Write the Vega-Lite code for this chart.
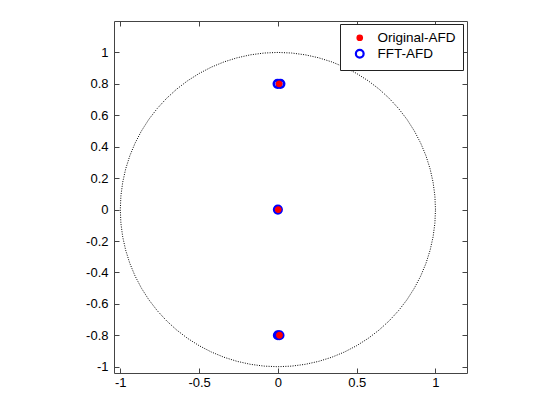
{
  "$schema": "https://vega.github.io/schema/vega-lite/v6.json",
  "width": 353,
  "height": 352,
  "autosize": {"type": "none"},
  "padding": {"left": 114, "top": 21, "right": 87, "bottom": 42},
  "background": "white",
  "config": {
    "view": {"stroke": null},
    "font": "Liberation Sans",
    "axis": {
      "grid": false,
      "domainColor": "#444",
      "tickColor": "#444",
      "tickSize": -5,
      "labelFont": "Liberation Sans",
      "labelFontSize": 13,
      "labelColor": "#000",
      "title": null
    },
    "legend": {
      "orient": "none",
      "legendX": 226,
      "legendY": 3,
      "strokeColor": "#222",
      "fillColor": "white",
      "padding": 7,
      "labelFont": "Liberation Sans",
      "labelFontSize": 13.5,
      "labelColor": "#000",
      "symbolSize": 55,
      "symbolStrokeWidth": 2.2,
      "symbolOffset": 6,
      "rowPadding": 0,
      "labelOffset": 11,
      "offset": 0
    }
  },
  "datasets": {
    "circle": [
      {"a": 0, "x": 1, "y": 0},
      {"a": 5, "x": 0.9962, "y": 0.0872},
      {"a": 10, "x": 0.9848, "y": 0.1736},
      {"a": 15, "x": 0.9659, "y": 0.2588},
      {"a": 20, "x": 0.9397, "y": 0.342},
      {"a": 25, "x": 0.9063, "y": 0.4226},
      {"a": 30, "x": 0.866, "y": 0.5},
      {"a": 35, "x": 0.8192, "y": 0.5736},
      {"a": 40, "x": 0.766, "y": 0.6428},
      {"a": 45, "x": 0.7071, "y": 0.7071},
      {"a": 50, "x": 0.6428, "y": 0.766},
      {"a": 55, "x": 0.5736, "y": 0.8192},
      {"a": 60, "x": 0.5, "y": 0.866},
      {"a": 65, "x": 0.4226, "y": 0.9063},
      {"a": 70, "x": 0.342, "y": 0.9397},
      {"a": 75, "x": 0.2588, "y": 0.9659},
      {"a": 80, "x": 0.1736, "y": 0.9848},
      {"a": 85, "x": 0.0872, "y": 0.9962},
      {"a": 90, "x": 0, "y": 1},
      {"a": 95, "x": -0.0872, "y": 0.9962},
      {"a": 100, "x": -0.1736, "y": 0.9848},
      {"a": 105, "x": -0.2588, "y": 0.9659},
      {"a": 110, "x": -0.342, "y": 0.9397},
      {"a": 115, "x": -0.4226, "y": 0.9063},
      {"a": 120, "x": -0.5, "y": 0.866},
      {"a": 125, "x": -0.5736, "y": 0.8192},
      {"a": 130, "x": -0.6428, "y": 0.766},
      {"a": 135, "x": -0.7071, "y": 0.7071},
      {"a": 140, "x": -0.766, "y": 0.6428},
      {"a": 145, "x": -0.8192, "y": 0.5736},
      {"a": 150, "x": -0.866, "y": 0.5},
      {"a": 155, "x": -0.9063, "y": 0.4226},
      {"a": 160, "x": -0.9397, "y": 0.342},
      {"a": 165, "x": -0.9659, "y": 0.2588},
      {"a": 170, "x": -0.9848, "y": 0.1736},
      {"a": 175, "x": -0.9962, "y": 0.0872},
      {"a": 180, "x": -1, "y": 0},
      {"a": 185, "x": -0.9962, "y": -0.0872},
      {"a": 190, "x": -0.9848, "y": -0.1736},
      {"a": 195, "x": -0.9659, "y": -0.2588},
      {"a": 200, "x": -0.9397, "y": -0.342},
      {"a": 205, "x": -0.9063, "y": -0.4226},
      {"a": 210, "x": -0.866, "y": -0.5},
      {"a": 215, "x": -0.8192, "y": -0.5736},
      {"a": 220, "x": -0.766, "y": -0.6428},
      {"a": 225, "x": -0.7071, "y": -0.7071},
      {"a": 230, "x": -0.6428, "y": -0.766},
      {"a": 235, "x": -0.5736, "y": -0.8192},
      {"a": 240, "x": -0.5, "y": -0.866},
      {"a": 245, "x": -0.4226, "y": -0.9063},
      {"a": 250, "x": -0.342, "y": -0.9397},
      {"a": 255, "x": -0.2588, "y": -0.9659},
      {"a": 260, "x": -0.1736, "y": -0.9848},
      {"a": 265, "x": -0.0872, "y": -0.9962},
      {"a": 270, "x": 0, "y": -1},
      {"a": 275, "x": 0.0872, "y": -0.9962},
      {"a": 280, "x": 0.1736, "y": -0.9848},
      {"a": 285, "x": 0.2588, "y": -0.9659},
      {"a": 290, "x": 0.342, "y": -0.9397},
      {"a": 295, "x": 0.4226, "y": -0.9063},
      {"a": 300, "x": 0.5, "y": -0.866},
      {"a": 305, "x": 0.5736, "y": -0.8192},
      {"a": 310, "x": 0.6428, "y": -0.766},
      {"a": 315, "x": 0.7071, "y": -0.7071},
      {"a": 320, "x": 0.766, "y": -0.6428},
      {"a": 325, "x": 0.8192, "y": -0.5736},
      {"a": 330, "x": 0.866, "y": -0.5},
      {"a": 335, "x": 0.9063, "y": -0.4226},
      {"a": 340, "x": 0.9397, "y": -0.342},
      {"a": 345, "x": 0.9659, "y": -0.2588},
      {"a": 350, "x": 0.9848, "y": -0.1736},
      {"a": 355, "x": 0.9962, "y": -0.0872},
      {"a": 360, "x": 1, "y": 0}
    ],
    "points": [
      {"series": "FFT-AFD", "x": -0.002, "y": 0.8},
      {"series": "FFT-AFD", "x": 0.016, "y": 0.8},
      {"series": "FFT-AFD", "x": 0, "y": 0},
      {"series": "FFT-AFD", "x": 0, "y": -0.8},
      {"series": "FFT-AFD", "x": 0.01, "y": -0.8},
      {"series": "Original-AFD", "x": 0.008, "y": 0.8},
      {"series": "Original-AFD", "x": 0.002, "y": 0},
      {"series": "Original-AFD", "x": 0.01, "y": -0.8}
    ]
  },
  "layer": [
    {
      "data": {"name": "circle"},
      "mark": {"type": "line", "color": "#000", "strokeWidth": 1, "strokeDash": [1, 1.4], "clip": true},
      "encoding": {
        "x": {"field": "x", "type": "quantitative", "scale": {"domain": [-1.04, 1.2], "nice": false, "zero": false},
              "axis": {"orient": "bottom", "values": [-1, -0.5, 0, 0.5, 1], "labelExpr": "'' + datum.value", "labelPadding": 8}},
        "y": {"field": "y", "type": "quantitative", "scale": {"domain": [-1.04, 1.2], "nice": false, "zero": false},
              "axis": {"orient": "left", "values": [-1, -0.8, -0.6, -0.4, -0.2, 0, 0.2, 0.4, 0.6, 0.8, 1], "labelExpr": "'' + datum.value", "labelPadding": 11}},
        "order": {"field": "a", "type": "quantitative"}
      }
    },
    {
      "data": {"name": "points"},
      "mark": {"type": "point", "shape": "circle", "filled": false, "strokeWidth": 2.4, "opacity": 1},
      "encoding": {
        "x": {"field": "x", "type": "quantitative",
              "axis": {"orient": "top", "values": [-1, -0.5, 0, 0.5, 1], "labels": false}},
        "y": {"field": "y", "type": "quantitative",
              "axis": {"orient": "right", "values": [-1, -0.8, -0.6, -0.4, -0.2, 0, 0.2, 0.4, 0.6, 0.8, 1], "labels": false}},
        "color": {"field": "series", "type": "nominal",
                  "scale": {"domain": ["Original-AFD", "FFT-AFD"], "range": ["#ff0000", "#0000ff"]},
                  "legend": {"title": null, "encode": {"symbols": {"update": {"size": {"signal": "datum.value === 'Original-AFD' ? 70 : 42"}}}}}},
        "fill": {"field": "series", "type": "nominal",
                 "scale": {"domain": ["Original-AFD", "FFT-AFD"], "range": ["#ff0000", "transparent"]},
                 "legend": {"title": null, "encode": {"symbols": {"update": {"size": {"signal": "datum.value === 'Original-AFD' ? 70 : 42"}}}}}},
        "size": {"field": "series", "type": "nominal",
                 "scale": {"domain": ["Original-AFD", "FFT-AFD"], "range": [20, 60]},
                 "legend": null}
      }
    }
  ],
  "resolve": {"axis": {"x": "independent", "y": "independent"}}
}
